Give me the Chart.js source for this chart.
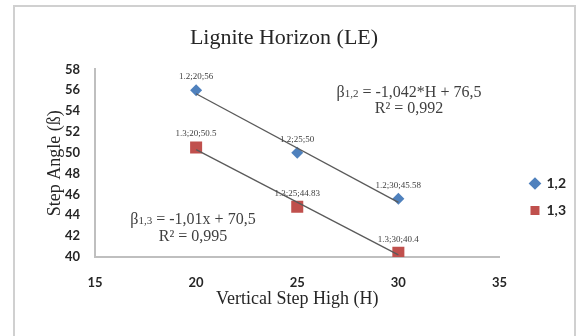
<!DOCTYPE html>
<html>
<head>
<meta charset="utf-8">
<script src="https://cdn.jsdelivr.net/npm/chart.js@4/dist/chart.umd.min.js"></script>
<style>
  html, body { margin: 0; padding: 0; background: #ffffff; }
  #wrap { position: relative; width: 578px; height: 336px; }
</style>
</head>
<body>
<div id="wrap"><canvas id="c" width="578" height="336"></canvas></div>
<script>
// Vertical step height (H) and measured step angles for the two series
const stepHeights = [20, 25, 30];
const angles12 = [56, 50, 45.58];
const angles13 = [50.5, 44.83, 40.4];
const seriesNames = ['1,2', '1,3'];
const labelNames = ['1.2', '1.3'];

// Linear trend equations as printed on the chart
const trend12 = { slope: -1.042, intercept: 76.5 };
const trend13 = { slope: -1.01, intercept: 70.5 };

const xTicks = [15, 20, 25, 30, 35];
const yRange = { min: 40, max: 58, step: 2 };

const blue = '#4f81bd';
const red = '#c0504d';

function points(xs, ys) { return xs.map((x, i) => ({ x: x, y: ys[i] })); }
function trendPoints(t) {
  const x0 = stepHeights[0], x1 = stepHeights[stepHeights.length - 1];
  return [{ x: x0, y: t.slope * x0 + t.intercept }, { x: x1, y: t.slope * x1 + t.intercept }];
}

// Outer frame round the chart
const framePlugin = {
  id: 'frame',
  beforeDraw(chart) {
    const ctx = chart.ctx;
    ctx.save();
    ctx.fillStyle = '#ffffff';
    ctx.fillRect(0, 0, chart.width, chart.height);
    ctx.strokeStyle = '#d0d0d0';
    ctx.lineWidth = 2;
    ctx.beginPath();
    ctx.moveTo(14, chart.height + 2);
    ctx.lineTo(14, 6);
    ctx.lineTo(575, 6);
    ctx.lineTo(575, chart.height + 2);
    ctx.stroke();
    ctx.restore();
  }
};

// Nudge the title and the legend block into place after layout
const placementPlugin = {
  id: 'placement',
  afterLayout(chart) {
    const t = chart.titleBlock;
    if (t) { t.left -= 17; t.right -= 17; }
    const lg = chart.legend;
    if (lg) { lg.left += 18; lg.right += 18; lg.top += 37; lg.bottom += 37; }
  }
};

// Small "series;x;y" labels above each marker
const pointLabelPlugin = {
  id: 'pointLabels',
  afterDatasetsDraw(chart) {
    const ctx = chart.ctx;
    ctx.save();
    ctx.font = '9px "Liberation Serif"';
    ctx.fillStyle = '#404040';
    ctx.textAlign = 'center';
    ctx.textBaseline = 'bottom';
    chart.data.datasets.forEach((ds, di) => {
      if (ds.isTrend) return;
      const meta = chart.getDatasetMeta(di);
      meta.data.forEach((el, i) => {
        const v = ds.data[i];
        ctx.fillText(ds.labelName + ';' + v.x + ';' + v.y, el.x, el.y - 9);
      });
    });
    ctx.restore();
  }
};

// Trend equations with subscripted series index
function drawEquation(ctx, cx, cy, sub, rest) {
  const big = '16px "Liberation Serif"';
  const small = '11px "Liberation Serif"';
  ctx.font = big; const wB = ctx.measureText('β').width;
  ctx.font = small; const wS = ctx.measureText(sub).width;
  ctx.font = big; const wR = ctx.measureText(rest).width;
  let x = cx - (wB + wS + wR) / 2;
  ctx.textAlign = 'left';
  ctx.textBaseline = 'alphabetic';
  ctx.font = big; ctx.fillText('β', x, cy); x += wB;
  ctx.font = small; ctx.fillText(sub, x, cy); x += wS;
  ctx.font = big; ctx.fillText(rest, x, cy);
}
const equationPlugin = {
  id: 'equations',
  afterDraw(chart) {
    const ctx = chart.ctx;
    ctx.save();
    ctx.fillStyle = '#404040';
    drawEquation(ctx, 409, 97, '1,2', ' = -1,042*H + 76,5');
    ctx.font = '16px "Liberation Serif"';
    ctx.textAlign = 'center';
    ctx.fillText('R² = 0,992', 409, 113);
    drawEquation(ctx, 193, 224, '1,3', ' = -1,01x + 70,5');
    ctx.font = '16px "Liberation Serif"';
    ctx.textAlign = 'center';
    ctx.fillText('R² = 0,995', 193, 241);
    ctx.restore();
  }
};

const tickFont = { family: 'Lato', size: 13, weight: 'bold' };

new Chart(document.getElementById('c'), {
  type: 'scatter',
  data: {
    datasets: [
      {
        label: 'trend 1,2', isTrend: true, type: 'line', order: 0,
        data: trendPoints(trend12),
        borderColor: '#5a5a5a', borderWidth: 1.3, pointRadius: 0, fill: false
      },
      {
        label: 'trend 1,3', isTrend: true, type: 'line', order: 0,
        data: trendPoints(trend13),
        borderColor: '#5a5a5a', borderWidth: 1.3, pointRadius: 0, fill: false
      },
      {
        label: seriesNames[0], labelName: labelNames[0], order: 1,
        data: points(stepHeights, angles12),
        pointStyle: 'rectRot', pointRadius: 6, pointHoverRadius: 6,
        backgroundColor: blue, borderColor: blue, borderWidth: 0
      },
      {
        label: seriesNames[1], labelName: labelNames[1], order: 1,
        data: points(stepHeights, angles13),
        pointStyle: 'rect', pointRadius: 8.5, pointHoverRadius: 8.5,
        backgroundColor: red, borderColor: red, borderWidth: 0
      }
    ]
  },
  options: {
    responsive: false,
    animation: false,
    events: [],
    layout: { padding: { left: 44, right: 20, top: 10, bottom: 26 } },
    plugins: {
      title: {
        display: true,
        text: 'Lignite Horizon (LE)',
        color: '#262626',
        font: { family: 'Liberation Serif', size: 22, weight: 'normal' },
        padding: { top: 15, bottom: 18 }
      },
      legend: {
        position: 'right',
        labels: {
          usePointStyle: true,
          color: '#262626',
          font: { family: 'Lato', size: 14, weight: 'bold' },
          boxWidth: 9, boxHeight: 9,
          padding: 13,
          filter: (item, data) => !data.datasets[item.datasetIndex].isTrend
        }
      },
      tooltip: { enabled: false }
    },
    scales: {
      x: {
        type: 'linear',
        min: xTicks[0], max: xTicks[xTicks.length - 1],
        ticks: { stepSize: 5, autoSkip: false, color: '#262626', font: tickFont, padding: 18 },
        grid: { display: false, drawTicks: false },
        border: { color: '#bfbfbf', width: 2 },
        title: {
          display: true, text: 'Vertical Step High (H)', color: '#262626',
          font: { family: 'Liberation Serif', size: 18 }, padding: { top: 0, bottom: 0 }
        },
        afterFit(scale) { scale.height = 53; }
      },
      y: {
        min: yRange.min, max: yRange.max,
        ticks: { stepSize: yRange.step, autoSkip: false, color: '#262626', font: tickFont, padding: 15 },
        grid: { display: false, drawTicks: false },
        border: { color: '#bfbfbf', width: 2 },
        title: {
          display: true, text: 'Step Angle (ß)', color: '#262626',
          font: { family: 'Liberation Serif', size: 18 }, padding: { top: 0, bottom: 0 }
        },
        afterFit(scale) { scale.width = 51; }
      }
    }
  },
  plugins: [framePlugin, placementPlugin, pointLabelPlugin, equationPlugin]
});
</script>
</body>
</html>
